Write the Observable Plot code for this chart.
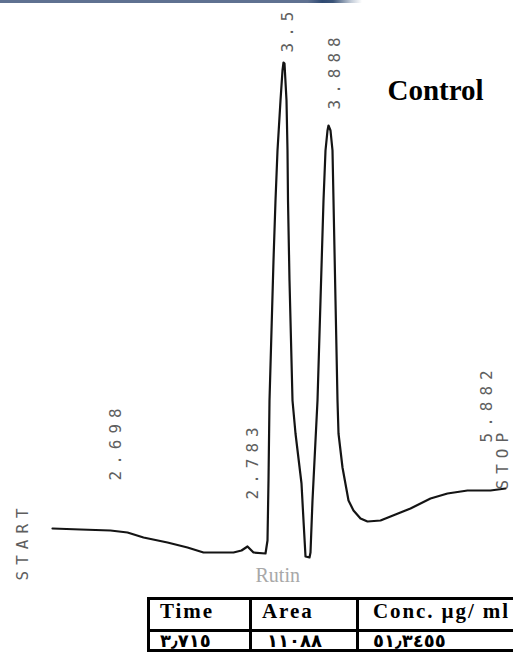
<!DOCTYPE html>
<html><head><meta charset="utf-8">
<script src="https://cdn.jsdelivr.net/npm/d3@7"></script>
<script src="https://cdn.jsdelivr.net/npm/@observablehq/plot@0.6"></script>
<style>
body{margin:0;background:#fff;}
#wrap{position:relative;width:513px;height:653px;overflow:hidden;background:#fff;}
#topbar{position:absolute;left:0;top:0;width:362px;height:3px;
 background:linear-gradient(to right,#5f7191 0%,#5f7191 85%,#2f4a72 89%,#3b5478 92%,#c3ccd8 97%,rgba(255,255,255,0) 100%);}
#chart{position:absolute;left:0;top:0;}
.tline{position:absolute;background:#000;}
.tcell{position:absolute;white-space:nowrap;line-height:1;color:#000;}
.thead{font-family:"Liberation Serif",serif;font-weight:bold;font-size:21px;letter-spacing:1.9px;}
.trow{font-family:"DejaVu Sans",sans-serif;font-weight:bold;font-size:18px;}
</style></head><body>
<div id="wrap"><div id="chart"></div><div id="topbar"></div></div>
<script>
// chromatogram trace (time in min-scale units, signal in % of full scale)
const time = [0.52,0.80,1.10,1.27,1.43,1.67,1.87,2.03,2.33,2.41,2.47,2.53,2.65,2.67,2.68,2.69,2.71,2.73,2.75,2.77,2.80,2.82,2.83,2.84,2.86,2.87,2.875,2.89,2.92,2.95,3.01,3.03,3.05,3.09,3.10,3.12,3.17,3.20,3.23,3.25,3.27,3.28,3.30,3.32,3.33,3.35,3.37,3.38,3.42,3.48,3.53,3.60,3.67,3.80,3.95,4.10,4.30,4.47,4.67,4.90,5.05];
const signal = [7.2,7.1,7.0,6.8,6.3,5.8,5.3,4.8,4.8,5.0,5.4,4.8,4.7,6.0,12.0,20.0,27.0,34.0,40.0,45.0,50.0,53.0,53.8,53.7,50.0,45.0,40.0,32.0,20.0,16.7,11.7,8.0,4.4,4.3,4.8,10.0,20.0,30.0,40.0,45.0,47.0,47.5,47.0,45.0,40.0,30.0,20.0,16.7,13.3,10.0,9.0,8.2,7.9,8.0,8.6,9.2,10.2,10.7,11.0,11.0,11.2];

// printed peak labels
const labelText = ["START","2.698","2.783","3.5","3.888","5.882","STOP"];
const labelTime = [0.22,1.15,2.52,2.87,3.34,4.86,5.02];
const labelSignal = [2.0,12.0,10.1,54.8,49.1,15.8,11.1];

// annotations
const noteText = ["Control","Rutin"];
const noteTime = [3.87,2.55];
const noteSignal = [51.0,2.5];

// result table
const tableHeaders = ["Time","Area","Conc. µg/ ml"];
const tableRow = ["٣٫٧١٥","١١٠٨٨","٥١٫٣٤٥٥"];

const trace = time.map((t,i)=>({t, s: signal[i]}));
const labels = labelText.map((text,i)=>({text, t: labelTime[i], s: labelSignal[i]}));
const notes = noteText.map((text,i)=>({text, t: noteTime[i], s: noteSignal[i]}));

const chart = Plot.plot({
  width: 513, height: 600,
  marginTop: 0, marginRight: 0, marginBottom: 0, marginLeft: 0,
  x: {domain: [0, 5.13], axis: null},
  y: {domain: [0, 60], axis: null},
  marks: [
    Plot.line(trace, {x: "t", y: "s", stroke: "#141414", strokeWidth: 2.2, strokeLinejoin: "round"}),
    Plot.text(labels, {x: "t", y: "s", text: "text", rotate: -90, textAnchor: "start",
      fontFamily: "DejaVu Sans Mono", fontSize: 16, fill: "#5e5e5e"}),
    Plot.text(notes.slice(0,1), {x: "t", y: "s", text: "text", textAnchor: "start",
      fontFamily: "Liberation Serif", fontWeight: "bold", fontSize: 29, fill: "#000"}),
    Plot.text(notes.slice(1), {x: "t", y: "s", text: "text", textAnchor: "start",
      fontFamily: "Liberation Serif", fontSize: 20, fill: "#a8a8a8"})
  ]
});
d3.select(chart).selectAll("text").filter(function(){ return labelText.includes(this.textContent); })
  .style("letter-spacing", "6px");
document.getElementById("chart").appendChild(chart);

// table
const wrapEl = document.getElementById("wrap");
function box(cls, l, t, w, h){ const d=document.createElement("div"); d.className=cls; Object.assign(d.style,{left:l+"px",top:t+"px",width:w+"px",height:h+"px"}); wrapEl.appendChild(d); return d; }
const tLeft = 147, tTop = 597, tRight = 560, tBottom = 652;
box("tline", tLeft, tTop, tRight-tLeft, 3);
box("tline", tLeft, 629, tRight-tLeft, 3);
box("tline", tLeft, tBottom-3, tRight-tLeft, 3);
box("tline", tLeft, tTop, 3, tBottom-tTop);
box("tline", 249, tTop, 3, tBottom-tTop);
box("tline", 356, tTop, 3, tBottom-tTop);
const colX = [160, 262, 373];
const rowX = [160, 267, 373];
tableHeaders.forEach((h,i)=>{ const d=document.createElement("div"); d.className="tcell thead"; d.textContent=h; d.style.left=colX[i]+"px"; d.style.top="601px"; wrapEl.appendChild(d); });
tableRow.forEach((h,i)=>{ const d=document.createElement("div"); d.className="tcell trow"; d.textContent=h; d.style.left=rowX[i]+"px"; d.style.top="632px"; wrapEl.appendChild(d); });
</script>
</body></html>
